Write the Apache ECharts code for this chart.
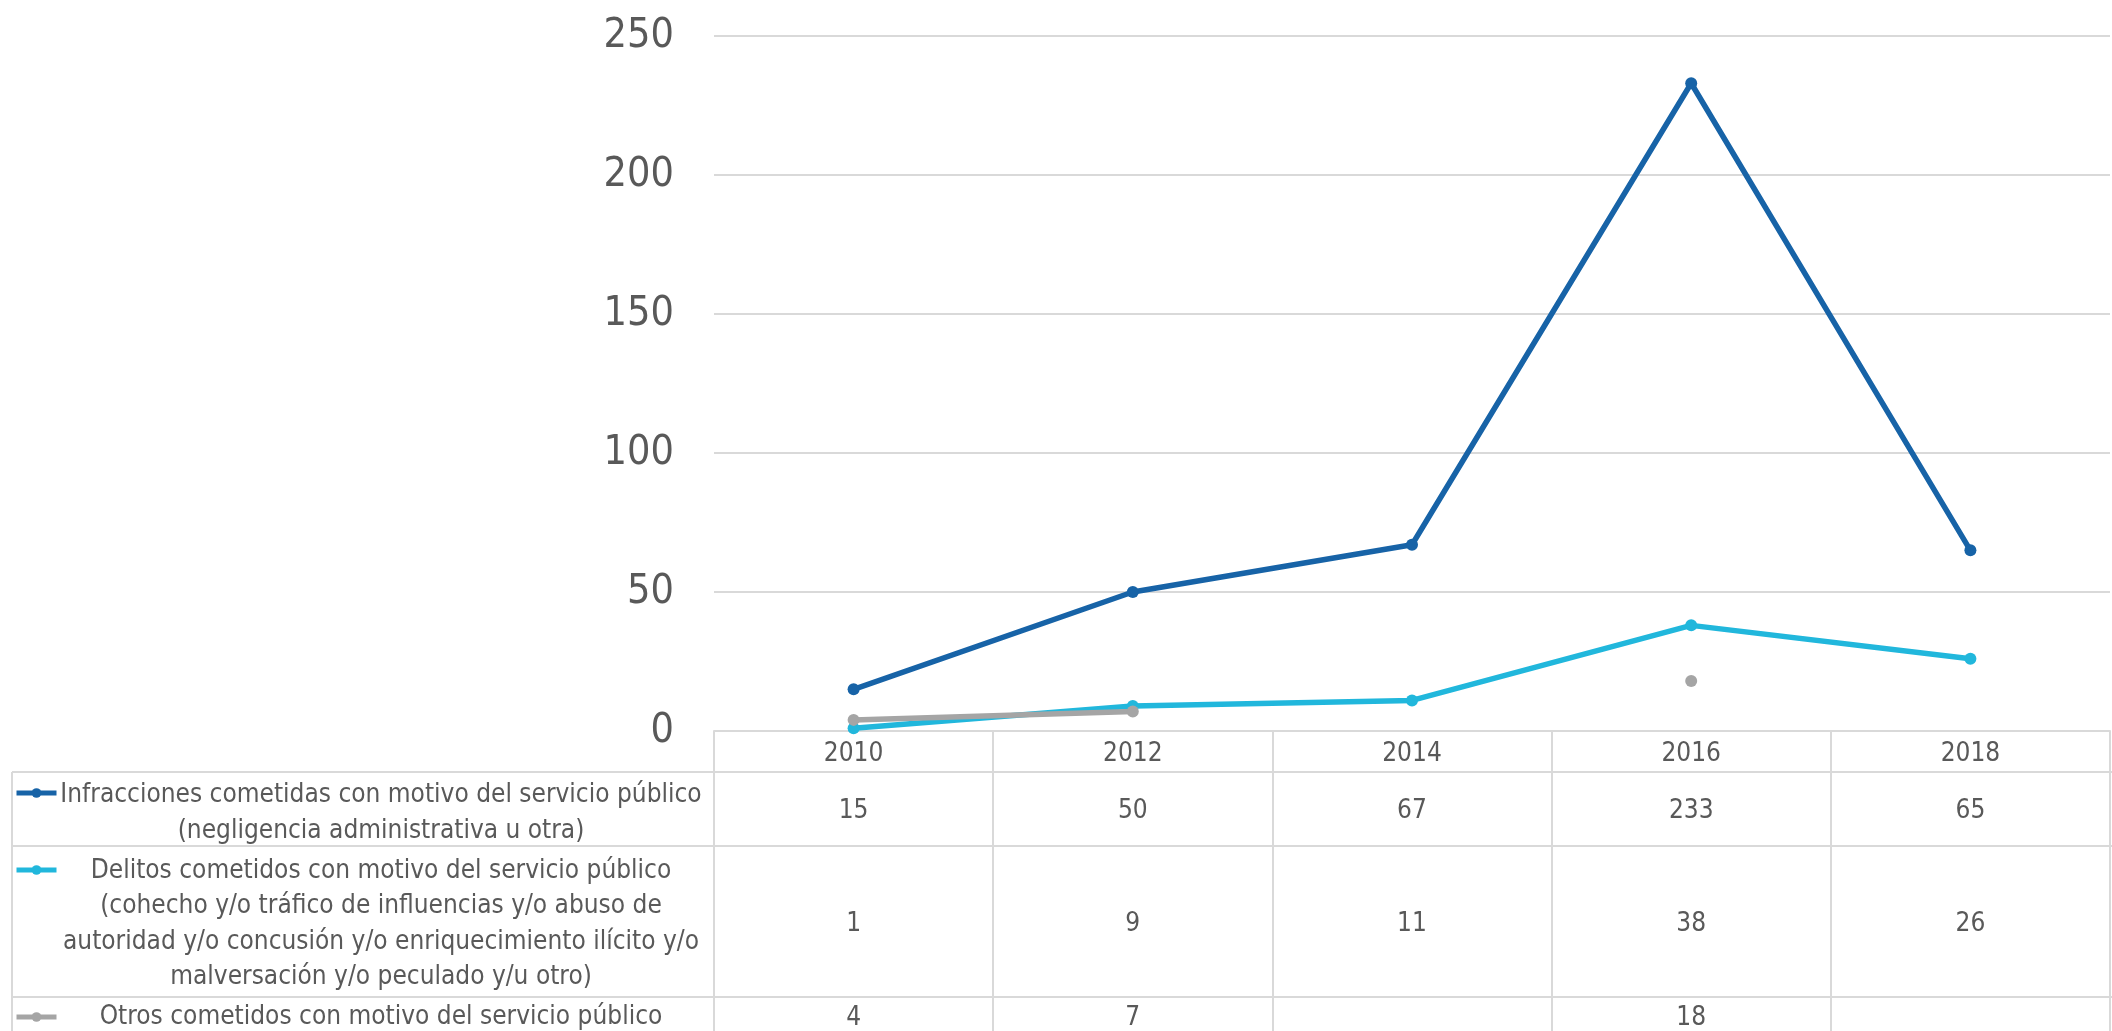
<!DOCTYPE html>
<html>
<head>
<meta charset="utf-8">
<script src="https://cdn.jsdelivr.net/npm/echarts@6/dist/echarts.min.js"></script>
<style>
html,body{margin:0;padding:0;background:#fff;}
#c{width:2112px;height:1031px;}
</style>
</head>
<body>
<div id="c"></div>
<script>
const years = ['2010', '2012', '2014', '2016', '2018'];
const infracciones = [15, 50, 67, 233, 65];
const delitos = [1, 9, 11, 38, 26];
const otros = [4, 7, null, 18, null];
const yMin = 0, yMax = 250, yStep = 50;

const nameInfracciones = 'Infracciones cometidas con motivo del servicio público (negligencia administrativa u otra)';
const nameDelitos = 'Delitos cometidos con motivo del servicio público (cohecho y/o tráfico de influencias y/o abuso de autoridad y/o concusión y/o enriquecimiento ilícito y/o malversación y/o peculado y/u otro)';
const nameOtros = 'Otros cometidos con motivo del servicio público';

const labelInfracciones = ['Infracciones cometidas con motivo del servicio público', '(negligencia administrativa u otra)'];
const labelDelitos = ['Delitos cometidos con motivo del servicio público', '(cohecho y/o tráfico de influencias y/o abuso de', 'autoridad y/o concusión y/o enriquecimiento ilícito y/o', 'malversación y/o peculado y/u otro)'];
const labelOtros = ['Otros cometidos con motivo del servicio público'];

const FONT = '"DejaVu Sans Condensed", "DejaVu Sans", sans-serif';
const TXT = '#595959';
const GRIDC = '#d9d9d9';
const colors = ['#1763a7', '#21b7dc', '#a5a5a5'];

const chart = echarts.init(document.getElementById('c'), null, {renderer: 'canvas'});

function rowAxis(values, offset) {
  return {
    type: 'category', data: years, position: 'bottom', offset: offset,
    axisLine: {show: false}, axisTick: {show: false}, splitLine: {show: false},
    axisLabel: {
      margin: 0, verticalAlign: 'middle', fontFamily: FONT, fontSize: 26, color: TXT,
      formatter: (v, i) => values[i] == null ? '' : String(values[i])
    }
  };
}

function legendAt(name, top) {
  return {
    data: [name], left: 14, top: top, orient: 'horizontal', padding: 0,
    itemWidth: 40, itemHeight: 12, selectedMode: false, itemGap: 0,
    lineStyle: {width: 5},
    formatter: () => '', textStyle: {fontSize: 1}
  };
}

function seriesOf(name, data, color) {
  return {
    name: name, type: 'line', data: data, connectNulls: false,
    symbol: 'circle', symbolSize: 12, showSymbol: true,
    lineStyle: {color: color, width: 5.5},
    itemStyle: {color: color},
    emphasis: {disabled: true}
  };
}

function textCell(lines, y, vAlign) {
  return {
    type: 'text', x: 381, y: y, silent: true,
    style: {
      text: lines.join('\n'), align: 'center', verticalAlign: vAlign,
      fontFamily: FONT, fontSize: 26, lineHeight: 35.5, fill: TXT
    }
  };
}

function hline(y, x1, x2) {
  return {type: 'line', silent: true, shape: {x1: x1, y1: y, x2: x2, y2: y}, style: {stroke: GRIDC, lineWidth: 2}};
}
function vline(x, y1, y2) {
  return {type: 'line', silent: true, shape: {x1: x, y1: y1, x2: x, y2: y2}, style: {stroke: GRIDC, lineWidth: 2}};
}

chart.setOption({
  animation: false,
  backgroundColor: '#fff',
  grid: {left: 714, right: 2, top: 36, bottom: 300, containLabel: false},
  legend: [
    legendAt(nameInfracciones, 787),
    legendAt(nameDelitos, 864),
    legendAt(nameOtros, 1011)
  ],
  xAxis: [
    {
      type: 'category', data: years, boundaryGap: true,
      axisLine: {show: true, lineStyle: {color: GRIDC, width: 2}},
      axisTick: {show: true, alignWithLabel: false, length: 300, lineStyle: {color: GRIDC, width: 2}},
      axisLabel: {margin: 23, verticalAlign: 'middle', fontFamily: FONT, fontSize: 26, color: TXT},
      splitLine: {show: false}
    },
    rowAxis(infracciones, 80),
    rowAxis(delitos, 193),
    rowAxis(otros, 287)
  ],
  yAxis: {
    type: 'value', min: yMin, max: yMax, interval: yStep,
    axisLine: {show: false}, axisTick: {show: false},
    splitLine: {show: true, lineStyle: {color: GRIDC, width: 2}},
    axisLabel: {margin: 40, fontFamily: FONT, fontSize: 41, color: TXT}
  },
  series: [
    seriesOf(nameInfracciones, infracciones, colors[0]),
    seriesOf(nameDelitos, delitos, colors[1]),
    seriesOf(nameOtros, otros, colors[2])
  ],
  graphic: [
    hline(772, 12, 2112),
    hline(846, 12, 2112),
    hline(997, 12, 2112),
    vline(12, 772, 1031),
    textCell(labelInfracciones, 813, 'middle'),
    textCell(labelDelitos, 924, 'middle'),
    textCell(labelOtros, 999, 'top')
  ]
});
</script>
</body>
</html>
